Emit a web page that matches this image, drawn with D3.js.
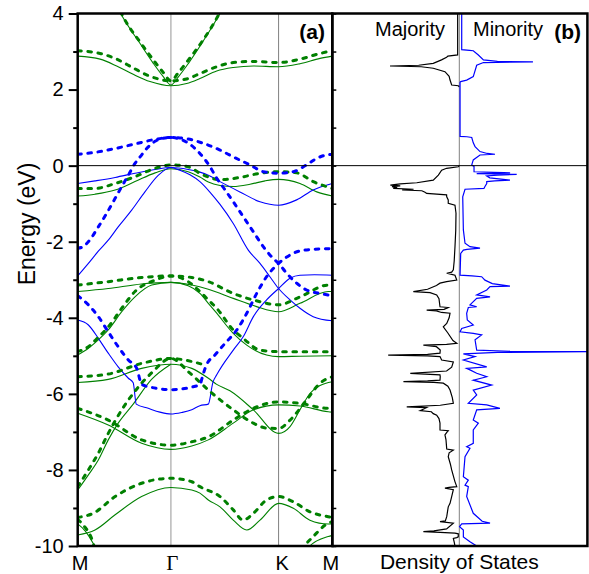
<!DOCTYPE html>
<html>
<head>
<meta charset="utf-8">
<script src="https://cdn.jsdelivr.net/npm/d3@7"></script>
<style>
  body { margin: 0; background: #fff; }
  svg { display: block; font-family: "Liberation Sans", Arial, sans-serif; }
</style>
</head>
<body>
<div id="chart"></div>
<script>
// k-path: fraction of the total path length M - Γ - K - M
const kTicks = [0, 0.366, 0.789, 1];
const kLabels = ["M", "Γ", "K", "M"];
const energyMajor = [-10, -8, -6, -4, -2, 0, 2, 4];
const energyMinor = [-9, -7, -5, -3, -1, 1, 3];

// bands, [k, E(eV)]. green = majority, blue = minority; solid / dashed = the two calculations
const gcSolid = [[0,2.88],[0.088,2.80],[0.153,2.62],[0.218,2.40],[0.284,2.21],[0.366,2.10],[0.428,2.16],[0.48,2.29],[0.546,2.49],[0.611,2.58],[0.69,2.62],[0.789,2.60],[0.873,2.68],[0.952,2.82],[1,2.88]];
const gcDash = [[0,3.02],[0.088,2.95],[0.153,2.80],[0.218,2.57],[0.284,2.35],[0.366,2.23],[0.428,2.28],[0.48,2.42],[0.546,2.60],[0.611,2.71],[0.69,2.74],[0.789,2.71],[0.873,2.80],[0.952,2.95],[1,3.02]];
const gpSolid = [[0.15,4.25],[0.169,4.0],[0.245,3.21],[0.297,2.69],[0.336,2.34],[0.366,2.12],[0.396,2.34],[0.435,2.69],[0.487,3.21],[0.559,4.0],[0.58,4.25]];
const gpDash = [[0.152,4.3],[0.172,4.0],[0.245,3.25],[0.297,2.78],[0.336,2.45],[0.366,2.23],[0.396,2.45],[0.435,2.78],[0.487,3.25],[0.556,4.0],[0.578,4.3]];
const gs1 = [[0,-0.80],[0.068,-0.75],[0.147,-0.64],[0.225,-0.42],[0.304,-0.19],[0.366,-0.08],[0.434,-0.16],[0.480,-0.30],[0.513,-0.43],[0.559,-0.52],[0.611,-0.55],[0.677,-0.49],[0.736,-0.40],[0.789,-0.36],[0.873,-0.47],[0.939,-0.69],[1,-0.80]];
const gd1 = [[0,-0.60],[0.068,-0.60],[0.147,-0.47],[0.225,-0.29],[0.304,-0.07],[0.366,0.02],[0.434,-0.03],[0.480,-0.20],[0.513,-0.30],[0.559,-0.37],[0.637,-0.31],[0.716,-0.20],[0.789,-0.16],[0.860,-0.19],[0.925,-0.42],[1,-0.60]];
const gs2a = [[0,-3.31],[0.120,-3.23],[0.251,-3.11],[0.366,-3.07],[0.448,-3.14],[0.513,-3.25],[0.611,-3.49],[0.70,-3.70],[0.789,-3.84],[0.873,-3.62],[0.984,-3.31],[1,-3.31]];
const gd2a = [[0,-3.14],[0.120,-3.05],[0.251,-2.94],[0.366,-2.90],[0.448,-2.94],[0.513,-3.05],[0.611,-3.36],[0.70,-3.55],[0.789,-3.66],[0.873,-3.45],[0.984,-3.14],[1,-3.14]];
const gs2b = [[0,-4.98],[0.042,-4.80],[0.081,-4.58],[0.120,-4.32],[0.173,-3.84],[0.225,-3.45],[0.291,-3.14],[0.366,-3.07],[0.434,-3.16],[0.480,-3.36],[0.513,-3.62],[0.546,-3.88],[0.611,-4.41],[0.664,-4.72],[0.742,-4.98],[0.789,-5.02],[0.873,-5.01],[1,-5.0]];
const gd2b = [[0,-4.89],[0.042,-4.76],[0.081,-4.51],[0.120,-4.24],[0.173,-3.75],[0.225,-3.31],[0.304,-3.01],[0.366,-2.90],[0.434,-3.05],[0.480,-3.31],[0.513,-3.53],[0.546,-3.75],[0.611,-4.32],[0.650,-4.54],[0.716,-4.85],[0.789,-4.89],[0.873,-4.89],[1,-4.89]];
const gs3 = [[0,-5.70],[0.120,-5.62],[0.251,-5.33],[0.366,-5.22],[0.448,-5.33],[0.513,-5.59],[0.546,-5.75],[0.598,-5.92],[0.690,-6.42],[0.789,-7.04],[0.834,-6.86],[0.873,-6.42],[0.912,-5.99],[0.952,-5.78],[1,-5.68]];
const gd3 = [[0,-5.55],[0.120,-5.48],[0.251,-5.20],[0.366,-5.07],[0.448,-5.15],[0.507,-5.26]];
const gs5 = [[0,-8.53],[0.042,-8.13],[0.081,-7.74],[0.120,-7.21],[0.159,-6.77],[0.218,-6.27],[0.29,-5.62],[0.366,-5.22]];
const gd5 = [[0,-8.44],[0.042,-8.00],[0.081,-7.56],[0.120,-7.04],[0.173,-6.42],[0.218,-5.99],[0.29,-5.45],[0.366,-5.07],[0.44,-5.45],[0.520,-5.94],[0.611,-6.42],[0.690,-6.77],[0.742,-6.90],[0.789,-6.91],[0.834,-6.69],[0.899,-6.16],[0.952,-5.72],[1,-5.55]];
const gs4 = [[0,-6.51],[0.120,-6.82],[0.251,-7.30],[0.366,-7.46],[0.448,-7.37],[0.513,-7.21],[0.611,-6.77],[0.690,-6.42],[0.789,-6.29],[0.873,-6.32],[0.984,-6.47],[1,-6.48]];
const gd4 = [[0,-6.38],[0.120,-6.69],[0.251,-7.21],[0.366,-7.35],[0.448,-7.26],[0.513,-7.13],[0.611,-6.69],[0.690,-6.38],[0.789,-6.21],[0.873,-6.25],[0.984,-6.38],[1,-6.38]];
const gs6 = [[0,-9.71],[0.068,-9.58],[0.147,-9.18],[0.251,-8.70],[0.366,-8.46],[0.448,-8.53],[0.480,-8.61],[0.513,-8.79],[0.559,-8.97],[0.611,-9.32],[0.664,-9.58],[0.716,-9.32],[0.789,-8.88],[0.847,-9.01],[0.912,-9.32],[0.984,-9.42],[1,-9.42]];
const gd6 = [[0,-9.25],[0.061,-9.14],[0.147,-8.70],[0.251,-8.35],[0.366,-8.22],[0.448,-8.31],[0.480,-8.44],[0.559,-8.70],[0.611,-9.05],[0.650,-9.32],[0.690,-9.14],[0.742,-8.79],[0.789,-8.70],[0.847,-8.84],[0.912,-9.10],[0.984,-9.23],[1,-9.25]];
const gs7L = [[0,-9.42],[0.029,-9.6],[0.075,-10.1]];
const gd7L = [[0,-9.3],[0.022,-9.45],[0.061,-9.93],[0.068,-10.1]];
const gs7R = [[0.905,-10.1],[0.912,-10.0],[0.984,-9.75],[1,-9.72]];
const gd7R = [[0.877,-10.1],[0.899,-9.93],[0.925,-9.75],[0.984,-9.40],[1,-9.36]];

const bs1 = [[0,-0.47],[0.068,-0.40],[0.147,-0.31],[0.225,-0.20],[0.304,-0.10],[0.366,-0.05],[0.434,-0.10],[0.480,-0.17],[0.513,-0.25],[0.559,-0.42],[0.637,-0.69],[0.716,-0.95],[0.789,-1.04],[0.860,-0.90],[0.925,-0.64],[1,-0.47]];
const bs2 = [[0,-2.9],[0.042,-2.57],[0.081,-2.25],[0.120,-1.96],[0.159,-1.61],[0.212,-1.17],[0.264,-0.69],[0.317,-0.25],[0.366,-0.05],[0.401,-0.12],[0.441,-0.24],[0.480,-0.42],[0.520,-0.70],[0.559,-1.02],[0.611,-1.52],[0.670,-2.22],[0.716,-2.57],[0.755,-2.92],[0.789,-3.23],[0.834,-3.53],[0.873,-3.75],[0.925,-3.97],[1,-4.08]];
const bs3 = [[0,-4.06],[0.042,-4.19],[0.081,-4.54],[0.120,-4.93],[0.159,-5.29],[0.199,-5.59],[0.218,-5.71],[0.230,-6.27],[0.277,-6.38],[0.323,-6.48],[0.366,-6.53],[0.409,-6.49],[0.448,-6.42],[0.480,-6.31],[0.513,-6.27],[0.531,-5.7],[0.546,-5.5],[0.611,-4.85],[0.650,-4.50],[0.690,-3.97],[0.742,-3.53],[0.789,-3.23],[0.834,-2.96],[0.873,-2.88],[0.930,-2.87],[1,-2.88]];
const bd1 = [[0,0.30],[0.068,0.35],[0.147,0.45],[0.225,0.57],[0.304,0.69],[0.366,0.74],[0.434,0.70],[0.492,0.59],[0.559,0.41],[0.611,0.23],[0.677,0.02],[0.729,-0.16],[0.789,-0.20],[0.847,-0.16],[0.899,0.02],[0.939,0.19],[0.97,0.27],[1,0.30]];
const bd2 = [[0,-2.17],[0.015,-2.15],[0.042,-2.0],[0.081,-1.61],[0.114,-1.25],[0.147,-0.86],[0.173,-0.55],[0.199,-0.25],[0.225,0.06],[0.245,0.23],[0.271,0.45],[0.304,0.64],[0.335,0.72],[0.366,0.74],[0.401,0.70],[0.441,0.56],[0.480,0.32],[0.520,-0.03],[0.546,-0.33],[0.579,-0.64],[0.611,-0.95],[0.650,-1.34],[0.690,-1.74],[0.729,-2.13],[0.768,-2.44],[0.789,-2.57],[0.821,-2.83],[0.860,-3.09],[0.899,-3.27],[0.952,-3.36],[1,-3.42]];
const bd3 = [[0,-3.42],[0.042,-3.66],[0.081,-3.97],[0.120,-4.37],[0.159,-4.76],[0.199,-5.11],[0.232,-5.33],[0.251,-5.75],[0.284,-5.82],[0.323,-5.87],[0.366,-5.89],[0.409,-5.87],[0.449,-5.82],[0.480,-5.75],[0.492,-5.5],[0.505,-5.25],[0.539,-4.98],[0.579,-4.67],[0.625,-4.32],[0.664,-3.88],[0.703,-3.36],[0.742,-2.92],[0.789,-2.57],[0.834,-2.35],[0.873,-2.24],[0.925,-2.2],[1,-2.18]];

const greenSolid = [gcSolid, gpSolid, gs1, gs2a, gs2b, gs3, gs5, gs4, gs6, gs7L, gs7R];
const greenDash = [gcDash, gpDash, gd1, gd2a, gd2b, gd3, gd5, gd4, gd6, gd7L, gd7R];
const blueSolid = [bs1, bs2, bs3];
const blueDash = [bd1, bd2, bd3];

// density of states, [E(eV), DOS (arb. units)]; null = no states (gap)
const dosMajority = [[4.0,0.13],[2.91,0.13],[2.88,0.9],[2.85,1.0],[2.78,1.4],[2.69,2.05],[2.64,3.2],[2.62,5.46],[2.60,3.0],[2.56,2.05],[2.47,1.13],[2.35,0.8],[2.25,0.73],[2.12,0.6],[2.10,0.08],[2.07,0],
  null,
  [0.0,0],[-0.03,0.08],[-0.07,1.0],[-0.12,1.39],[-0.25,1.65],[-0.38,2.05],[-0.45,3.35],[-0.48,4.65],[-0.51,5.43],[-0.53,4.65],[-0.55,5.3],[-0.58,4.9],[-0.60,5.2],[-0.62,3.6],[-0.64,4.5],[-0.66,2.95],[-0.70,2.7],[-0.73,2.57],[-0.77,1.0],[-0.82,0.99],[-0.90,0.87],[-0.99,0.87],[-1.04,0.34],[-1.25,0.26],[-1.7,0.28],[-2.13,0.34],[-2.5,0.4],[-2.74,0.47],[-2.80,0.6],[-2.83,0.99],[-2.86,0.6],[-2.88,0.34],[-3.01,0.2],[-3.05,1.0],[-3.09,1.52],[-3.15,1.8],[-3.25,2.5],[-3.31,3.62],[-3.34,2.3],[-3.40,1.78],[-3.5,1.6],[-3.71,1.52],[-3.73,0.87],[-3.78,1.2],[-3.80,2.57],[-3.82,1.8],[-3.86,1.4],[-3.88,0.73],[-4.0,0.8],[-4.15,0.99],[-4.24,1.26],[-4.4,0.9],[-4.6,0.5],[-4.67,0.2],[-4.70,1.0],[-4.72,2.83],[-4.76,1.8],[-4.85,1.5],[-4.93,1.52],[-4.96,2.5],[-4.98,5.6],[-5.00,2.5],[-5.02,1.52],[-5.11,1.39],[-5.16,0.47],[-5.3,0.6],[-5.40,1.0],[-5.46,3.86],[-5.50,1.52],[-5.55,1.5],[-5.64,1.52],[-5.66,2.5],[-5.68,4.4],[-5.70,2.0],[-5.72,1.26],[-5.80,0.9],[-5.90,0.73],[-6.1,0.55],[-6.25,0.47],[-6.30,1.5],[-6.34,4.14],[-6.36,2.57],[-6.40,2.8],[-6.44,3.07],[-6.47,2.2],[-6.52,2.05],[-6.56,1.78],[-6.65,1.6],[-6.77,1.52],[-6.95,1.52],[-6.97,0.87],[-7.02,1.0],[-7.08,1.13],[-7.2,1.05],[-7.45,0.99],[-7.48,0.47],[-7.55,0.8],[-7.65,0.87],[-7.85,0.7],[-8.00,0.6],[-8.3,0.35],[-8.44,0.2],[-8.46,0.8],[-8.48,1.13],[-8.52,0.47],[-8.7,0.6],[-8.88,0.73],[-8.97,0.87],[-9.23,0.99],[-9.34,1.1],[-9.36,1.52],[-9.40,0.47],[-9.55,1.0],[-9.60,2.0],[-9.62,2.83],[-9.64,1.52],[-9.66,0.34],[-9.68,0.08],[-9.76,0.08],[-9.78,0.2],[-9.80,0.47],[-9.90,0.4],[-10,0.34]];
const dosMinority = [[4.0,0.19],[3.05,0.19],[3.03,0.8],[3.02,1.1],[2.91,1.5],[2.78,1.9],[2.74,3.0],[2.73,5.8],[2.71,1.9],[2.64,1.37],[2.34,1.1],[2.25,0.58],[2.21,0.11],[2.19,0.06],[0.77,0.06],[0.76,0.6],[0.74,0.98],[0.60,1.1],[0.50,1.24],[0.37,1.63],[0.32,2.2],[0.30,2.81],[0.28,1.63],[0.15,1.1],[0.02,0.98],[-0.02,1.16],[-0.16,1.16],[-0.18,3.5],[-0.19,4.0],[-0.21,1.37],[-0.23,4.52],[-0.25,3.0],[-0.27,2.16],[-0.32,2.4],[-0.38,3.99],[-0.40,2.8],[-0.42,2.16],[-0.47,2.16],[-0.55,2.02],[-0.60,1.94],[-0.62,0.45],[-0.82,0.27],[-1.69,0.32],[-2.04,0.45],[-2.13,0.84],[-2.17,1.63],[-2.20,0.6],[-2.22,0.32],[-2.31,0.11],[-2.88,0.06],[-2.90,1.0],[-2.92,1.76],[-3.01,2.02],[-3.10,2.6],[-3.17,3.99],[-3.18,2.42],[-3.27,2.16],[-3.40,1.37],[-3.45,2.42],[-3.49,1.37],[-3.66,0.84],[-3.71,1.37],[-3.73,0.71],[-3.88,0.58],[-4.06,0.63],[-4.19,1.1],[-4.28,0.19],[-4.37,0.06],[-4.41,1.1],[-4.45,1.76],[-4.58,1.24],[-4.85,1.37],[-4.88,4.0],[-4.89,10.1],[-4.91,3.0],[-4.95,0.32],[-5.02,1.24],[-5.11,0.32],[-5.29,2.16],[-5.33,0.58],[-5.37,0.84],[-5.46,1.37],[-5.55,2.16],[-5.64,1.1],[-5.77,2.55],[-5.90,1.1],[-6.03,1.37],[-6.25,0.71],[-6.29,2.16],[-6.38,3.2],[-6.42,1.37],[-6.69,1.1],[-6.77,1.5],[-6.95,1.1],[-7.30,1.1],[-7.39,0.58],[-7.43,0.84],[-7.65,0.45],[-8.18,0.32],[-8.27,0.71],[-8.40,0.45],[-8.44,0.71],[-8.70,0.58],[-9.14,1.1],[-9.35,1.8],[-9.40,2.42],[-9.42,0.19],[-9.49,0.02],[-9.58,0.32],[-9.76,0.32],[-9.89,0.84],[-10,1.37]];

const width = 589, height = 574;
const xL = 77.7, xM = 332.3, xR = 587.7, yT = 13.5, yB = 546;
const green = "#008000", blue = "#0000ff";

const svg = d3.select("#chart").append("svg")
  .attr("width", width)
  .attr("height", height);

const x = d3.scaleLinear().domain([0, 1]).range([xL, xM]);
const y = d3.scaleLinear().domain([-10, 4]).range([yB, yT]);
const xd = d3.scaleLinear().domain([-10, 10]).range([xM, xR - 1.4]);

const defs = svg.append("defs");
defs.append("clipPath").attr("id", "clipA").append("rect")
  .attr("x", xL).attr("y", yT).attr("width", xM - xL).attr("height", yB - yT);
defs.append("clipPath").attr("id", "clipB").append("rect")
  .attr("x", xM).attr("y", yT).attr("width", xR - xM).attr("height", yB - yT);

// ---- panel (a): band structure
const pa = svg.append("g").attr("clip-path", "url(#clipA)");

pa.append("line")
  .attr("x1", x(kTicks[1])).attr("x2", x(kTicks[1]))
  .attr("y1", yT).attr("y2", yB)
  .attr("stroke", "#bdbdbd").attr("stroke-width", 1.6);
pa.append("line")
  .attr("x1", x(kTicks[2])).attr("x2", x(kTicks[2]))
  .attr("y1", yT).attr("y2", yB)
  .attr("stroke", "#808080").attr("stroke-width", 1);

const band = d3.line()
  .x(d => x(d[0]))
  .y(d => y(d[1]))
  .curve(d3.curveMonotoneX);

function drawBands(list, color, dashed) {
  pa.append("g").selectAll("path")
    .data(list)
    .enter()
    .append("path")
    .attr("d", band)
    .attr("fill", "none")
    .attr("stroke", color)
    .attr("stroke-width", dashed ? 3 : 1.1)
    .attr("stroke-dasharray", dashed ? "3.6,6.6" : null)
    .attr("stroke-linecap", dashed ? "round" : "butt");
}
drawBands(greenSolid, green, false);
drawBands(blueSolid, blue, false);
drawBands(greenDash, green, true);
drawBands(blueDash, blue, true);

// ---- panel (b): density of states
const pb = svg.append("g").attr("clip-path", "url(#clipB)");

pb.append("line")
  .attr("x1", xd(0)).attr("x2", xd(0))
  .attr("y1", yT).attr("y2", yB)
  .attr("stroke", "#808080").attr("stroke-width", 1);

const dosLine = sign => d3.line()
  .defined(d => d !== null)
  .x(d => xd(sign * d[1]))
  .y(d => y(d[0]));

pb.append("path")
  .attr("d", dosLine(-1)(dosMajority))
  .attr("fill", "none")
  .attr("stroke", "#000")
  .attr("stroke-width", 1.2);

pb.append("path")
  .attr("d", dosLine(1)(dosMinority))
  .attr("fill", "none")
  .attr("stroke", blue)
  .attr("stroke-width", 1.2);

// Fermi level across both panels
svg.append("line")
  .attr("x1", xL).attr("x2", xR)
  .attr("y1", y(0)).attr("y2", y(0))
  .attr("stroke", "#000").attr("stroke-width", 1);

// ---- axes
const yAxis = svg.append("g")
  .attr("transform", `translate(${xL},0)`)
  .call(d3.axisLeft(y).tickValues(energyMajor).tickSize(9).tickPadding(5)
    .tickFormat(d => String(d)));
yAxis.select(".domain").remove();
yAxis.selectAll("line").attr("stroke-width", 2);
yAxis.selectAll("text")
  .attr("font-size", 20)
  .attr("font-family", "Liberation Sans, Arial, sans-serif")
  .attr("fill", "#000");

const yMinor = svg.append("g")
  .attr("transform", `translate(${xL},0)`)
  .call(d3.axisLeft(y).tickValues(energyMinor).tickSize(4.5).tickFormat(""));
yMinor.select(".domain").remove();
yMinor.selectAll("line").attr("stroke-width", 2);

const yInner = svg.append("g")
  .attr("transform", `translate(${xM},0)`)
  .call(d3.axisRight(y).tickValues(d3.range(-10, 5)).tickSize(4).tickFormat(""));
yInner.select(".domain").remove();
yInner.selectAll("line").attr("stroke-width", 1.5);

const xAxis = svg.append("g")
  .attr("transform", `translate(0,${yB})`)
  .call(d3.axisBottom(x).tickValues(kTicks).tickSize(0).tickFormat((d, i) => kLabels[i]));
xAxis.select(".domain").remove();
xAxis.selectAll("text")
  .attr("y", 24)
  .attr("dy", 0)
  .attr("dx", (d, i) => [2, 1, 3, -2][i])
  .attr("font-size", (d, i) => i === 1 ? 21 : 20)
  .attr("font-family", (d, i) => i === 1 ? "Liberation Serif, Times New Roman, serif" : "Liberation Sans, Arial, sans-serif")
  .attr("fill", "#000");

// ---- frames
svg.append("rect")
  .attr("x", xL).attr("y", yT)
  .attr("width", xM - xL).attr("height", yB - yT)
  .attr("fill", "none").attr("stroke", "#000").attr("stroke-width", 2.5);
svg.append("rect")
  .attr("x", xM).attr("y", yT)
  .attr("width", xR - xM - 0.3).attr("height", yB - yT)
  .attr("fill", "none").attr("stroke", "#000").attr("stroke-width", 2.5);

// ---- labels
svg.append("text")
  .attr("transform", "translate(35,224) rotate(-90)")
  .attr("text-anchor", "middle")
  .attr("font-size", 23)
  .text("Energy (eV)");

svg.append("text")
  .attr("x", 459.3).attr("y", 569)
  .attr("text-anchor", "middle")
  .attr("font-size", 21)
  .text("Density of States");

svg.append("text")
  .attr("x", 325).attr("y", 39)
  .attr("text-anchor", "end")
  .attr("font-size", 21).attr("font-weight", "bold")
  .text("(a)");
svg.append("text")
  .attr("x", 581).attr("y", 39)
  .attr("text-anchor", "end")
  .attr("font-size", 21).attr("font-weight", "bold")
  .text("(b)");
svg.append("text")
  .attr("x", 375).attr("y", 36)
  .attr("font-size", 20)
  .text("Majority");
svg.append("text")
  .attr("x", 473).attr("y", 36)
  .attr("font-size", 20)
  .text("Minority");
</script>
</body>
</html>
